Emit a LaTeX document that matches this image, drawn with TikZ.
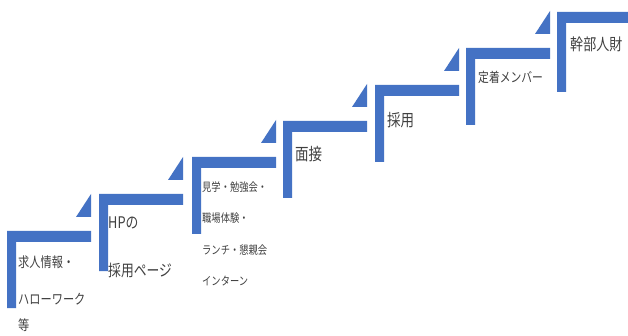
\documentclass[tikz,border=0pt]{standalone}
\usepackage{fontspec}
\usepackage{graphicx}
\newfontfamily\jp{Noto Sans CJK JP}
\definecolor{stepblue}{RGB}{68,114,196}
\definecolor{txt}{RGB}{64,64,64}
\newcommand\lab[2]{{\fontsize{#1}{#1}\jp\scalebox{0.8}[1]{#2}}}
\tikzset{
  lbl/.style={anchor=west, inner sep=0pt, text=txt},
}
\newcommand\stepcorner[2]{%
  \fill[stepblue] (#1,#2) -- ++(84,0) -- ++(0,11) -- ++(-75,0) -- ++(0,66) -- ++(-9,0) -- cycle;}
\newcommand\steptri[2]{%
  \fill[stepblue] (#1+84,#2-14) -- (#1+69,#2-14) -- (#1+84,#2-37) -- cycle;}
\begin{document}
\begin{tikzpicture}[x=1pt,y=-1pt]
\useasboundingbox (0,0) rectangle (628,336);
\clip (0,0) rectangle (628,336);
\fill[white] (0,0) rectangle (628,336);
% corners
\stepcorner{7}{231}
\stepcorner{99}{194}
\stepcorner{192}{157}
\stepcorner{283}{121}
\stepcorner{375}{85}
\stepcorner{466}{48}
\fill[stepblue] (557,12) -- (628,12) -- (628,23) -- (566,23) -- (566,92) -- (557,92) -- cycle;
% triangles
\steptri{7}{231}
\steptri{99}{194}
\steptri{192}{157}
\steptri{283}{121}
\steptri{375}{85}
\steptri{466}{48}
% labels
\node[lbl] (s1a) at (18,262) {\lab{14}{求人情報・}};
\node[lbl] (s1b) at (18,299) {\lab{14}{ハローワーク}};
\node[lbl] (s1c) at (18,325) {\lab{14}{等}};
\node[lbl] (s2a) at (108,223) {\lab{16}{HPの}};
\node[lbl] (s2b) at (108,270) {\lab{16}{採用ページ}};
\node[lbl] (s3a) at (202,187) {\lab{11.6}{見学・勉強会・}};
\node[lbl] (s3b) at (202,218) {\lab{11.6}{職場体験・}};
\node[lbl] (s3c) at (202,250) {\lab{11.6}{ランチ・懇親会}};
\node[lbl] (s3d) at (202,281) {\lab{11.6}{インターン}};
\node[lbl] (s4) at (295,154) {\lab{16.9}{面接}};
\node[lbl] (s5) at (387,120) {\lab{16.9}{採用}};
\node[lbl] (s6) at (478,77) {\lab{13.5}{定着メンバー}};
\node[lbl] (s7) at (570,44) {\lab{16.3}{幹部人財}};
\end{tikzpicture}
\end{document}
